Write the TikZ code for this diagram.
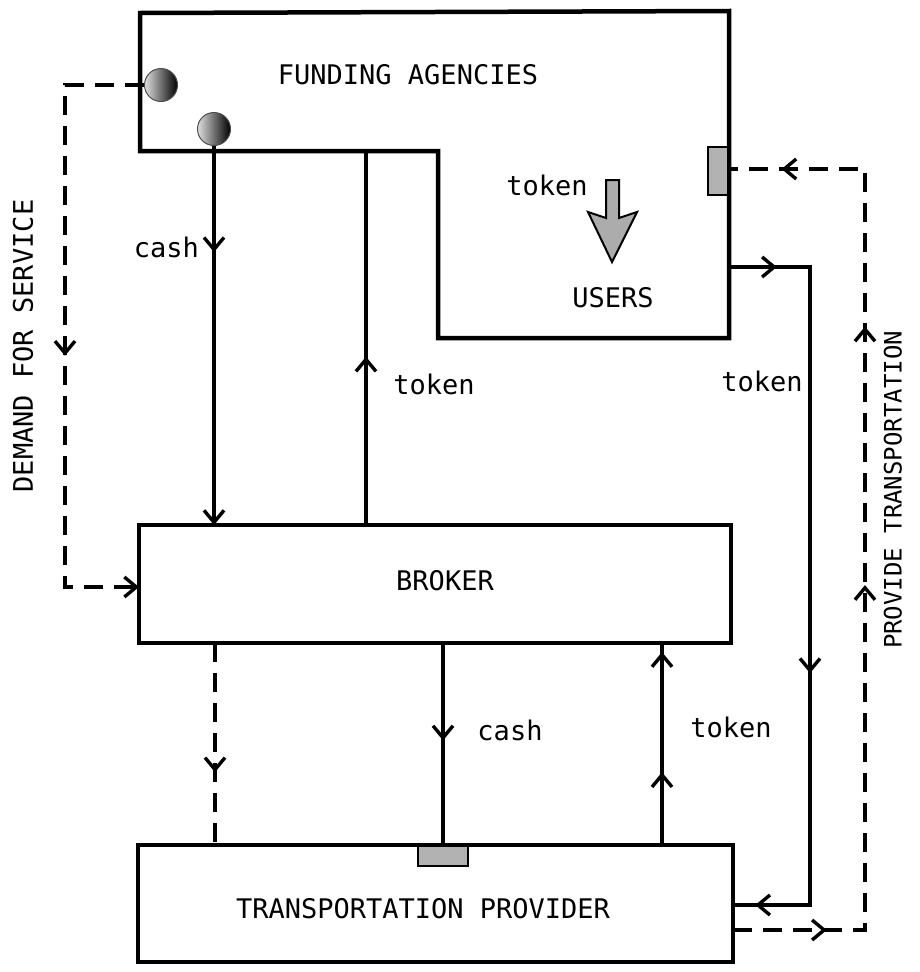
\documentclass[tikz,border=0pt]{standalone}
\usepackage{fontspec}
\newfontfamily\twfont{DejaVu Sans Mono}
\usetikzlibrary{arrows.meta,decorations.markings,calc}
\tikzset{
  barb/.tip={Straight Barb[length=12pt,width=20pt,line width=3.4pt]},
  boxline/.style={draw=black,line width=4.5pt,line join=miter},
  flow/.style={draw=black,line width=4pt},
  dflow/.style={draw=black,line width=4pt,dash pattern=on 19pt off 11pt},
  midarr/.style={postaction={decorate,decoration={markings,mark=at position #1 with {\arrow{barb}}}}},
  lbl/.style={font=\twfont\fontsize{27}{30}\selectfont,inner sep=0pt},
  vlbl/.style={font=\twfont\fontsize{24}{28}\selectfont,inner sep=0pt,rotate=90},
  blob/.style={circle,minimum size=33pt,inner sep=0pt,left color=gray!25,right color=black,draw=black!70,line width=1pt},
  chip/.style={fill=gray!60,draw=black,line width=2pt},
}
\begin{document}
\begin{tikzpicture}[x=1pt,y=-1pt]
\useasboundingbox (0,0) rectangle (919,972);

% Funding agencies / users L-shaped box
\coordinate (fa1) at (140,13);
\coordinate (fa2) at (729,11);
\coordinate (fa3) at (729,338);
\coordinate (fa4) at (438,338);
\coordinate (fa5) at (438,151);
\coordinate (fa6) at (140,151);
\draw[boxline] (fa1) -- (fa2) -- (fa3) -- (fa4) -- (fa5) -- (fa6) -- cycle;
\node[lbl] (falbl) at (408,75) {FUNDING AGENCIES};
\node[lbl] (users) at (613,298) {USERS};
\node[lbl] (tokin) at (547,185) {token};

% big token arrow
\path[fill=gray!65,draw=black,line width=2pt,line join=miter]
  (606,180) -- (619,180) -- (619,218) -- (637,212) -- (612,262) -- (588,212) -- (606,218) -- cycle;

% broker and provider boxes
\node[boxline,rectangle,minimum width=592pt,minimum height=118pt,inner sep=0pt] (broker) at (435,584) {};
\node[lbl] (brlbl) at (445,581) {BROKER};
\node[boxline,rectangle,minimum width=595pt,minimum height=117pt,inner sep=0pt] (tp) at (435.5,903.5) {};
\node[lbl] (tplbl) at (423,909) {TRANSPORTATION PROVIDER};

% blobs and chips
\node[blob] (c1) at (161,85) {};
\node[blob] (c2) at (214,129) {};
\draw[chip] (708,147) rectangle (728,195);
\draw[chip] (418,846) rectangle (468,866);

% cash: funding -> broker
\coordinate (cashb) at (214,525);
\draw[flow,midarr=0.28,-barb] (c2.south) -- (cashb);
\node[lbl,anchor=east] (cash1) at (199,247) {cash};

% token: broker -> funding
\coordinate (tk1b) at (366,525);
\coordinate (tk1t) at (366,151);
\draw[flow,midarr=0.45] (tk1b) -- (tk1t);
\node[lbl] (token1) at (434,384) {token};

% dashed broker -> provider
\coordinate (d1t) at (215,643);
\coordinate (d1b) at (215,845);
\draw[dflow,midarr=0.64] (d1t) -- (d1b);

% cash broker -> provider
\coordinate (c2t) at (443,643);
\coordinate (c2b) at (443,846);
\draw[flow,midarr=0.48] (c2t) -- (c2b);
\node[lbl] (cash2) at (510,730) {cash};

% token provider -> broker
\coordinate (t2b) at (662,845);
\coordinate (t2t) at (662,643);
\draw[flow,midarr=0.36,midarr=0.955] (t2b) -- (t2t);
\node[lbl] (token2) at (731,727) {token};

% token users -> provider
\coordinate (u1) at (729,267);
\coordinate (u2) at (810,267);
\coordinate (u3) at (810,905);
\coordinate (u4) at (733,905);
\draw[flow,line join=miter,midarr=0.06,midarr=0.612,midarr=0.972] (u1) -- (u2) -- (u3) -- (u4);
\node[lbl] (token3) at (762,381) {token};

% provide transportation
\coordinate (p1) at (733,930);
\coordinate (p2) at (865,930);
\coordinate (p3) at (865,169);
\coordinate (p4) at (728,169);
\draw[dflow,line join=miter,midarr=0.091,midarr=0.463,midarr=0.714,midarr=0.948] (p1) -- (p2) -- (p3) -- (p4);
\node[vlbl] (provlbl) at (893,490) {PROVIDE TRANSPORTATION};

% demand for service
\coordinate (s1) at (65,85);
\coordinate (s2) at (65,587);
\coordinate (s3) at (139,587);
\draw[dflow,line join=miter,midarr=0.534,-barb] (c1.west) -- (s1) -- (s2) -- (s3);
\node[vlbl,font=\twfont\fontsize{27}{30}\selectfont] (demlbl) at (23,346) {DEMAND FOR SERVICE};
\end{tikzpicture}
\end{document}
